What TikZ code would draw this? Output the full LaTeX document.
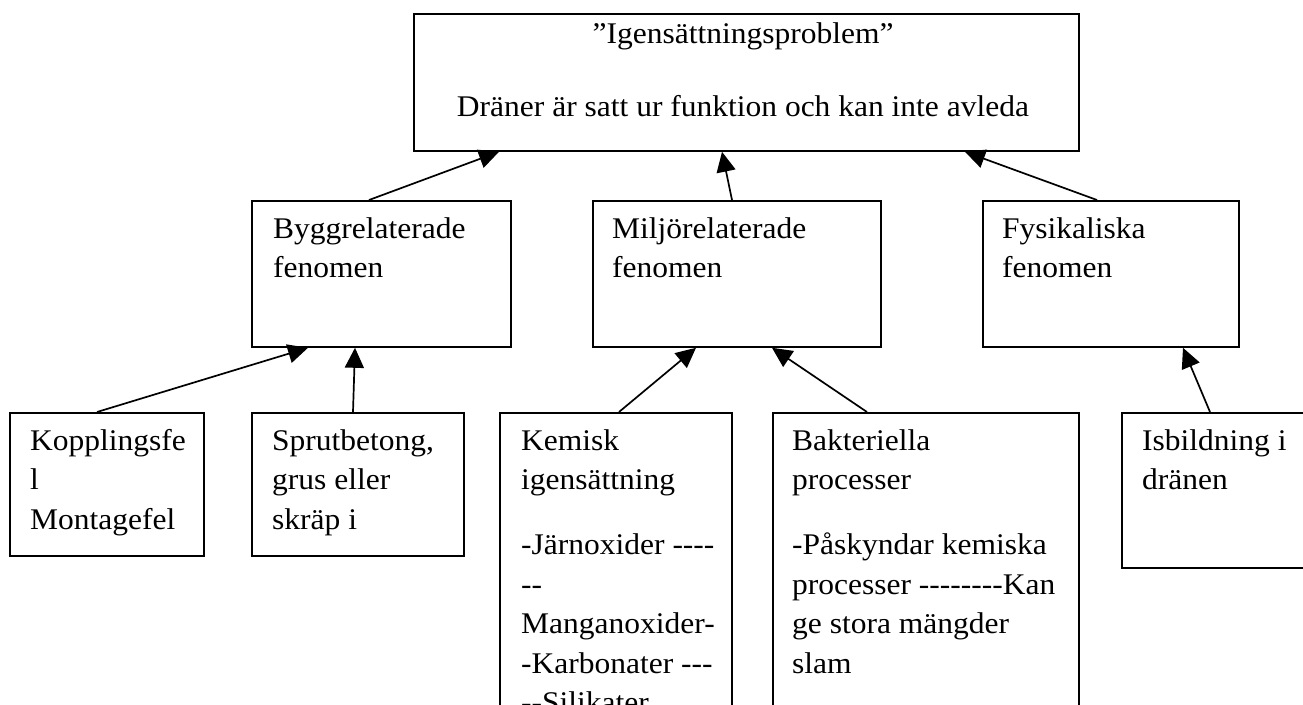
\documentclass[tikz,border=0pt]{standalone}
\usepackage{fontspec}
\setmainfont{Liberation Serif}[FakeStretch=1.05,Ligatures=TeXOff]
\usetikzlibrary{arrows.meta}
\tikzset{
  box/.style={draw, line width=1.8pt, inner sep=0pt, anchor=north west},
  txt/.style={anchor=base west, inner sep=0pt, font=\fontsize{30}{39.5}\selectfont},
  arr/.style={line width=1.7pt, -{Triangle[length=20pt,width=19pt]}},
}
\newcommand{\boxlines}[1]{\parbox[t]{400pt}{\raggedright #1}}
\begin{document}
\begin{tikzpicture}[x=1pt,y=-1pt]
\useasboundingbox (0,0) rectangle (1303,704);
\fill[white] (0,0) rectangle (1303,704);

% top
\node[box, minimum width=665pt, minimum height=137pt] (top) at (413,13) {};
\node[txt, anchor=base] (toptext) at (743,43) {\parbox[t]{640pt}{\centering ”Igensättningsproblem”\\[33.5pt]Dräner är satt ur funktion och kan inte avleda}};

% second row
\node[box, minimum width=259pt, minimum height=146pt] (bygg) at (251,200) {};
\node[txt] (byggt) at (273,238) {\boxlines{Byggrelaterade\\fenomen}};
\node[box, minimum width=288pt, minimum height=146pt] (milj) at (592,200) {};
\node[txt] (miljt) at (612,238) {\boxlines{Miljörelaterade\\fenomen}};
\node[box, minimum width=256pt, minimum height=146pt] (fys) at (982,200) {};
\node[txt] (fyst) at (1002,238) {\boxlines{Fysikaliska\\fenomen}};

% bottom row
\node[box, minimum width=194pt, minimum height=143pt] (kopp) at (9,412) {};
\node[txt] (koppt) at (30,450) {\boxlines{Kopplingsfe\\l\\Montagefel}};
\node[box, minimum width=212pt, minimum height=143pt] (sprut) at (251,412) {};
\node[txt] (sprutt) at (272,450) {\boxlines{Sprutbetong,\\grus eller\\skräp i}};
\node[box, minimum width=232pt, minimum height=400pt] (kem) at (499,412) {};
\node[txt] (kemt) at (521,450) {\boxlines{Kemisk\\igensättning\\[25.5pt]-Järnoxider ----\\--\\Manganoxider-\\-Karbonater ---\\--Silikater}};
\node[box, minimum width=306pt, minimum height=400pt] (bakt) at (772,412) {};
\node[txt] (baktt) at (792,450) {\boxlines{Bakteriella\\processer\\[25.5pt]-Påskyndar kemiska\\processer --------Kan\\ge stora mängder\\slam}};
\node[box, minimum width=279pt, minimum height=155pt] (isb) at (1121,412) {};
\node[txt] (isbt) at (1142,450) {\boxlines{Isbildning i\\dränen}};

% connectors
\draw[arr] ([xshift=118pt]bygg.north west) -- ([xshift=86pt]top.south west);
\draw[arr] ([xshift=140pt]milj.north west) -- ([xshift=309pt]top.south west);
\draw[arr] ([xshift=115pt]fys.north west) -- ([xshift=552pt]top.south west);
\draw[arr] ([xshift=88pt]kopp.north west) -- ([xshift=57pt]bygg.south west);
\draw[arr] ([xshift=102pt]sprut.north west) -- ([xshift=104pt]bygg.south west);
\draw[arr] ([xshift=120pt]kem.north west) -- ([xshift=104pt]milj.south west);
\draw[arr] ([xshift=95pt]bakt.north west) -- ([xshift=180pt]milj.south west);
\draw[arr] ([xshift=89pt]isb.north west) -- ([xshift=201pt]fys.south west);
\end{tikzpicture}
\end{document}
